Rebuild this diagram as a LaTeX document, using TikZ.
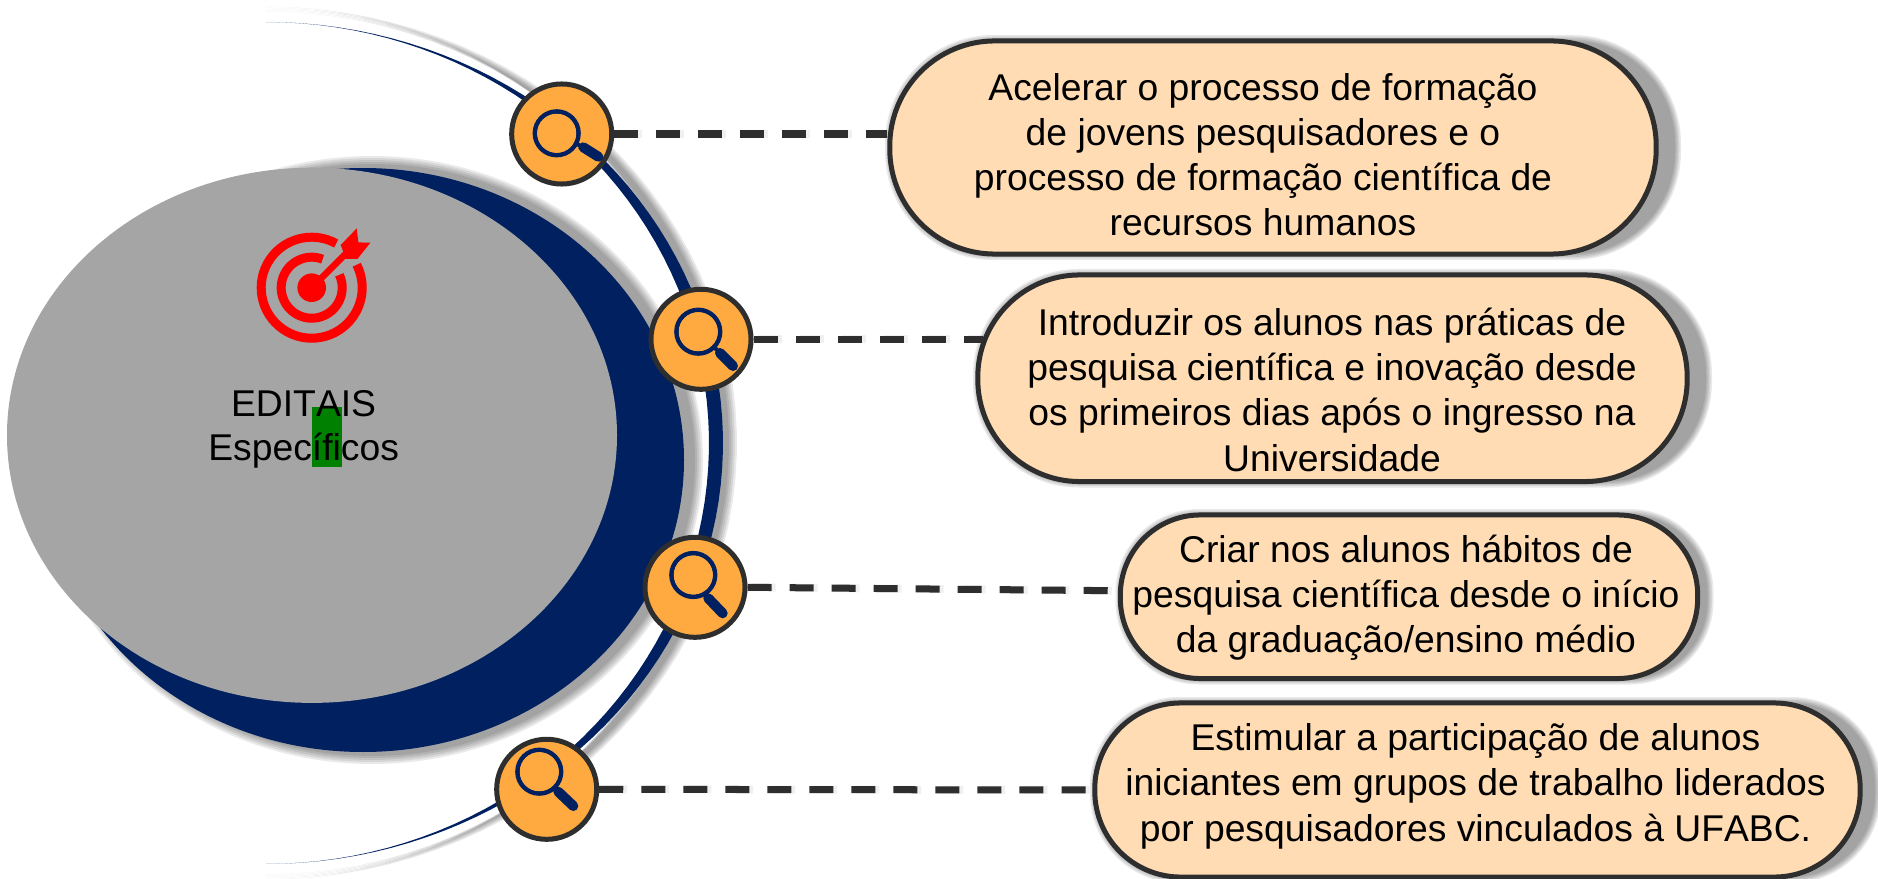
\documentclass[tikz,border=0pt]{standalone}
\usepackage{fontspec}
\setmainfont[Kerning=Off]{Liberation Sans}
\usetikzlibrary{calc}
\definecolor{navy}{HTML}{002060}
\definecolor{disk}{HTML}{A5A5A5}
\definecolor{ink}{HTML}{2E2E2E}
\definecolor{lens}{HTML}{FFAA40}
\definecolor{peach}{HTML}{FFDCB3}
\definecolor{leaf}{HTML}{008000}

\begin{document}
\begin{tikzpicture}[
    x=0.01cm,y=-0.01cm,
    pill/.style={rectangle,draw=ink,fill=peach,line width=0.05cm,inner sep=0},
    stop/.style={circle,draw=ink,fill=lens,line width=0.05cm,inner sep=0,minimum size=1cm},
    link/.style={draw=ink,line width=0.07cm,dash pattern=on 0.24cm off 0.18cm},
    glow/.style={draw=black,opacity=0.06,line width=0.08cm,dash pattern=on 0.24cm off 0.18cm},
    objtext/.style={anchor=base,align=center,inner sep=0,font=\fontsize{10.6}{12.8}\selectfont},
    haze/.style={fill=black,opacity=0.085}
    ]
\useasboundingbox (0,0) rectangle (1878,879);
% magnifying glass: lens centre, handle start, handle end
\def\glass#1#2#3{
  \draw[navy,line width=0.046cm] (#1) circle (21.8);
  \draw[navy,line width=0.04cm] (#1) -- (#2);
  \fill[lens] (#1) circle (19.5);
  \draw[navy,line width=0.1cm,line cap=round] (#2) -- (#3);
}

    % RING
    \foreach \b in {-4,-2,0,2,4} { % soft shadow
      \fill[haze] plot[domain=-90:90,samples=60] ({266+(467+\b)*cos(\x)},{443+(434+\b*0.6)*sin(\x)})
        -- plot[domain=90:-90,samples=60] ({266+(449-\b)*cos(\x)},{443+(434+\b*0.6)*sin(\x)}) -- cycle;
    }
    \fill[navy] plot[domain=-90:90,samples=80] ({266+457*cos(\x)},{443+421*sin(\x)})
      -- plot[domain=90:-90,samples=80] ({266+443*cos(\x)},{443+421*sin(\x)}) -- cycle;

    % DISKS
    \foreach \b in {-4,-2,0,2,4} {
      \fill[haze] (372,460) ellipse [x radius=327+\b,y radius=300+\b];
    }
    \fill[navy] (363,460) ellipse [x radius=321,y radius=292];
    \fill[disk] (312,435.3) ellipse [x radius=305,y radius=267.6];

    % TARGET
    \begin{scope}[shift={(311.7,287.7)},y=0.01cm,red]
      \fill (0,0) circle (14.3);
      \draw[line width=0.09cm] (61:50.5) arc [start angle=61,end angle=387,radius=50.5];
      \draw[line width=0.09cm] (69:30.5) arc [start angle=69,end angle=385,radius=30.5];
      \draw[line width=0.065cm] (0,0) -- (34,34);
      \fill (29,42.7) -- (45,59.3) -- (46.7,45.3) -- (58.7,45) -- (45.7,28.7) -- (34.3,28.7) -- cycle;
    \end{scope}

    \fill[leaf] (312,406.7) rectangle (342,467);
    \node[objtext] (editais) at (303.6,460) {EDITAIS\\[-0.3pt]Específicos};

    % OBJECTIVES
    \foreach \xa/\ya/\xb/\yb/\r/\e in {890/41/1656/254/105/24,978/275/1687/481.5/102/24,1120.5/515/1697.5/678.5/80/15,1095/703/1860/877/86/20} {
      \foreach \b in {-3,-1.5,0,1.5,3} {
        \fill[haze,rounded corners=\r*0.01cm+\b*0.01cm] (\xa-2-\b,\ya-3-\b) rectangle (\xb+\e-2+\b,\yb+3+\b);
      }
    }
    \node[pill,minimum width=7.66cm,minimum height=2.13cm,rounded corners=1.05cm] (obj1) at (1273,147.5) {};
    \node[pill,minimum width=7.09cm,minimum height=2.065cm,rounded corners=1.02cm] (obj2) at (1332.5,378.25) {};
    \node[pill,minimum width=5.77cm,minimum height=1.635cm,rounded corners=0.8cm] (obj3) at (1409,596.75) {};
    \node[pill,minimum width=7.65cm,minimum height=1.74cm,rounded corners=0.86cm] (obj4) at (1477.5,790) {};

    % STOPS
    \node[stop] (stop1) at (561.7,134) {};
    \node[stop] (stop2) at (701,339.3) {};
    \node[stop] (stop3) at (695,587.3) {};
    \node[stop] (stop4) at (546.7,789.3) {};
    \glass{556.7,133.3}{583.3,147.3}{598.3,156.7}
    \glass{698.3,331.7}{720,353}{733,366}
    \glass{693.3,575}{708.3,598.3}{722.7,613.3}
    \glass{539.3,771.7}{558.3,791.7}{573.3,806}

    % CONNECTORS
    \draw[glow,transform canvas={xshift=0.04cm}] (stop1.east) -- (stop1.east -| obj1.west);
    \draw[glow,transform canvas={xshift=0.04cm},shorten >=-0.08cm] (stop2.east) -- (stop2.east -| obj2.west);
    \draw[glow,transform canvas={xshift=0.04cm}] (stop3.east) -- ($(obj3.west)+(0,-6)$);
    \draw[glow,transform canvas={xshift=0.04cm}] (stop4.east) -- (obj4.west);
    \draw[link] (stop1.east) -- (stop1.east -| obj1.west);
    \draw[link,shorten >=-0.08cm] (stop2.east) -- (stop2.east -| obj2.west);
    \draw[link] (stop3.east) -- ($(obj3.west)+(0,-6)$);
    \draw[link] (stop4.east) -- (obj4.west);

    % TEXTS
    \node[objtext] (text1) at (1263,236) {Acelerar o processo de formação\\de jovens pesquisadores e o\\processo de formação científica de\\recursos humanos};
    \node[objtext] (text2) at (1332,471) {Introduzir os alunos nas práticas de\\pesquisa científica e inovação desde\\os primeiros dias após o ingresso na\\Universidade};
    \node[objtext] (text3) at (1406,652.7) {Criar nos alunos hábitos de\\pesquisa científica desde o início\\da graduação/ensino médio};
    \node[objtext] (text4) at (1475.5,841) {Estimular a participação de alunos\\iniciantes em grupos de trabalho liderados\\por pesquisadores vinculados à UFABC.};
\end{tikzpicture}
\end{document}
